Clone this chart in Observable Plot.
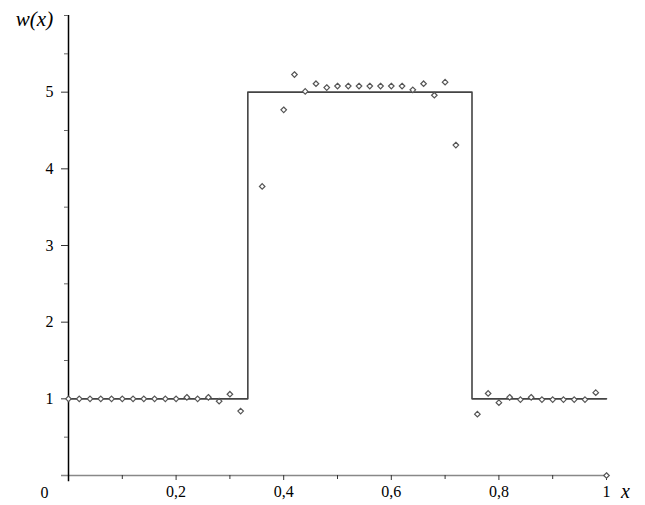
<!DOCTYPE html>
<html>
<head>
<meta charset="utf-8">
<script src="https://cdn.jsdelivr.net/npm/d3@7"></script>
<script src="https://cdn.jsdelivr.net/npm/@observablehq/plot@0.6"></script>
<style>
  html, body { margin: 0; padding: 0; background: #fff; }
  #chart { width: 645px; height: 505px; }
  #chart svg, #chart svg text { font-family: "Liberation Serif", "Times New Roman", serif !important; }
</style>
</head>
<body>
<div id="chart"></div>
<script>
// Sample points (x, w)
const pointX = [0, 0.02, 0.04, 0.06, 0.08, 0.10, 0.12, 0.14, 0.16, 0.18, 0.20,
  0.22, 0.24, 0.26, 0.28, 0.30, 0.32,
  0.36, 0.40, 0.42, 0.44, 0.46, 0.48, 0.50, 0.52, 0.54, 0.56, 0.58, 0.60, 0.62,
  0.64, 0.66, 0.68, 0.70, 0.72,
  0.76, 0.78, 0.80, 0.82, 0.84, 0.86, 0.88, 0.90, 0.92, 0.94, 0.96, 0.98, 1.00];
const pointW = [1.00, 1.00, 1.00, 1.00, 1.00, 1.00, 1.00, 1.00, 1.00, 1.00, 1.00,
  1.02, 1.00, 1.02, 0.97, 1.06, 0.84,
  3.77, 4.77, 5.23, 5.01, 5.11, 5.06, 5.08, 5.08, 5.08, 5.08, 5.08, 5.08, 5.08,
  5.03, 5.11, 4.96, 5.13, 4.31,
  0.80, 1.07, 0.95, 1.02, 0.99, 1.02, 0.99, 0.99, 0.99, 0.99, 0.99, 1.08, 0.00];

// Exact step function w(x)
const stepX = [0, 1/3, 1/3, 0.75, 0.75, 1];
const stepW = [1, 1, 5, 5, 1, 1];

// Tick values
const xMajorTicks = [0.2, 0.4, 0.6, 0.8, 1];
const xMinorTicks = [0.1, 0.3, 0.5, 0.7, 0.9];
const yMajorTicks = [1, 2, 3, 4, 5];
const yMinorTicks = [0.5, 1.5, 2.5, 3.5, 4.5, 5.5, 6];

const points = pointX.map((x, i) => ({x, w: pointW[i]}));
const step = stepX.map((x, i) => ({x, w: stepW[i]}));
const fmt = d => String(d).replace(".", ",");

const chart = Plot.plot({
  width: 645,
  height: 505,
  marginLeft: 68,
  marginRight: 39,
  marginTop: 15,
  marginBottom: 30,
  style: "font-family: 'Liberation Serif', 'Times New Roman', serif; font-size: 16px; background: #fff; color: #000;",
  x: {domain: [0, 1]},
  y: {domain: [0, 6]},
  marks: [
    // x axis line (gray) and y axis line (black)
    Plot.ruleY([0], {x1: -0.013, x2: 1, stroke: "#888", strokeWidth: 1.5}),
    Plot.ruleX([0], {y1: -0.08, y2: 6, stroke: "#000", strokeWidth: 1.5}),
    Plot.axisX({ticks: xMajorTicks, tickSize: 5, tickPadding: 5, tickFormat: fmt, label: null, stroke: "#333", fontSize: 16}),
    Plot.axisX({ticks: xMinorTicks, tickSize: 4, tickFormat: () => "", label: null, stroke: "#333"}),
    Plot.axisY({ticks: yMajorTicks, tickSize: 7, tickPadding: 8, tickFormat: d => String(d), label: null, stroke: "#333", fontSize: 16}),
    Plot.axisY({ticks: yMinorTicks, tickSize: 4, tickFormat: () => "", label: null, stroke: "#666"}),
    // step function
    Plot.line(step, {x: "x", y: "w", stroke: "#444", strokeWidth: 1.6}),
    // sample points
    Plot.dot(points, {x: "x", y: "w", symbol: "diamond2", r: 2.5, stroke: "#555", strokeWidth: 1.2, fill: "#fff"}),
    // origin and axis labels
    Plot.text(["0"], {x: 0, y: 0, dx: -24, dy: 17, fontSize: 16, fill: "#000"}),
    Plot.text(["x"], {x: 1, y: 0, dx: 19, dy: 16, fontSize: 20, fontStyle: "italic", fill: "#000"}),
    Plot.text(["w(x)"], {x: 0, y: 6, dx: -34, dy: 4, fontSize: 21, fontStyle: "italic", fill: "#000"})
  ]
});
document.getElementById("chart").appendChild(chart);
</script>
</body>
</html>
